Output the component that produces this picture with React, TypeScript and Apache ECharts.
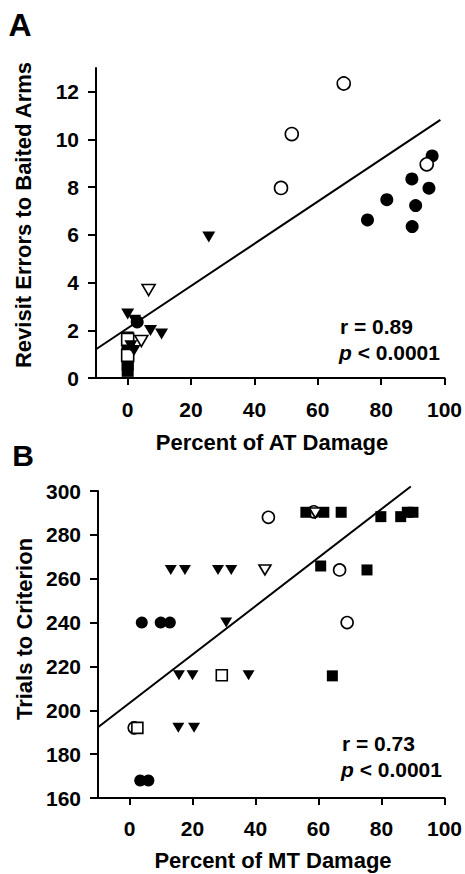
import React, { useEffect, useRef } from 'react';
import * as echarts from 'echarts';

const FONT = '"Liberation Sans", Arial, Helvetica, sans-serif';

// Panel A: Percent of AT damage vs revisit errors
const A_filledCircles = [[96.1, 9.31], [89.7, 8.35], [95.1, 7.96], [81.8, 7.48], [90.9, 7.23], [75.7, 6.63], [89.8, 6.35], [3, 2.35]];
const A_openCircles = [[68.2, 12.35], [51.8, 10.23], [48.4, 7.97], [94.4, 8.96]];
const A_filledSquares = [[0, 0.3], [0, 0.55], [0, 0.8], [0, 1.1], [0, 1.35], [0, 1.7]];
const A_openSquares = [[0, 1.62], [0, 0.95]];
const A_filledTriangles = [[25.6, 5.91], [0, 2.68], [2.2, 2.42], [7.2, 1.99], [10.7, 1.84], [1, 1.35], [2, 1.15]];
const A_openTriangles = [[6.6, 3.69], [4.3, 1.55]];
const A_fit = { intercept: 2.09, slope: 0.0885, xStart: -10, xEnd: 98.7 };

// Panel B: Percent of MT damage vs trials to criterion
const B_filledCircles = [[3.9, 240], [9.9, 240], [12.8, 240], [3.4, 168], [6, 168]];
const B_openCircles = [[44.1, 288], [66.7, 264], [69.1, 240], [1.5, 192], [58.5, 290.5]];
const B_filledSquares = [[56, 290.3], [61.7, 290.3], [67.2, 290.3], [79.8, 288.3], [86.1, 288.3], [88.2, 290.3], [90, 290.3], [60.7, 265.8], [75.4, 264], [64.4, 215.7]];
const B_openSquares = [[29.3, 216], [2.5, 192]];
const B_filledTriangles = [[13.1, 264], [17.6, 264], [28.1, 264], [32.3, 264], [30.7, 240], [15.7, 216], [20, 216], [37.8, 216], [15.5, 192], [20.5, 192]];
const B_openTriangles = [[43, 264], [59, 290]];
const B_fit = { intercept: 203.3, slope: 1.106, xStart: -10, xEnd: 89.3 };

const xTicks = [0, 20, 40, 60, 80, 100];
const yTicksA = [0, 2, 4, 6, 8, 10, 12];

const fitLine = (f: { intercept: number; slope: number; xStart: number; xEnd: number }) => [
  [f.xStart, f.intercept + f.slope * f.xStart],
  [f.xEnd, f.intercept + f.slope * f.xEnd],
];

const labelStyle = { color: '#000', fontSize: 21, fontWeight: 'bold', fontFamily: FONT };
const lineStyle = { color: '#000', width: 2 };

function xAxisCfg(gridIndex: number, margin: number) {
  return {
    type: 'value', gridIndex, min: -10, max: 100,
    axisLine: { show: true, onZero: false, lineStyle },
    axisTick: { show: true, customValues: xTicks, length: 7, lineStyle },
    axisLabel: { ...labelStyle, customValues: xTicks, margin },
    splitLine: { show: false },
  };
}

function scatter(data: number[][], xi: number, kind: string, open: boolean, size: number | number[]) {
  return {
    type: 'scatter', xAxisIndex: xi, yAxisIndex: xi, data,
    symbol: kind, symbolSize: size, symbolRotate: kind === 'triangle' ? 180 : 0,
    itemStyle: open ? { color: '#fff', borderColor: '#000', borderWidth: 1.6, opacity: 1 } : { color: '#000', opacity: 1 },
    z: 3,
  };
}

function panelSeries(xi: number, d: any, s: { c: number; q: number; t: number[] }) {
  return [
    scatter(d.fc, xi, 'circle', false, s.c),
    scatter(d.oc, xi, 'circle', true, s.c),
    scatter(d.fs, xi, 'rect', false, s.q),
    scatter(d.os, xi, 'rect', true, s.q),
    scatter(d.ft, xi, 'triangle', false, s.t),
    scatter(d.ot, xi, 'triangle', true, s.t),
    {
      type: 'line', xAxisIndex: xi, yAxisIndex: xi, data: d.fit, showSymbol: false, symbol: 'none',
      clip: false, lineStyle: { color: '#000', width: 2 }, z: 2,
    },
  ];
}

const textEl = (text: string, x: number, y: number, size: number, extra: any = {}) => ({
  type: 'text', x, y, rotation: extra.rotation || 0,
  style: {
    text, fill: '#000', fontSize: size, fontWeight: 'bold', fontFamily: FONT,
    align: extra.align || 'center', verticalAlign: 'middle',
    textAlign: extra.align || 'center', textVerticalAlign: 'middle',
    rich: extra.rich,
  },
});

const richP = { i: { fontSize: 21, fontWeight: 'bold', fontStyle: 'italic', fontFamily: FONT, fill: '#000', color: '#000' } };

const option = {
  animation: false,
  backgroundColor: '#fff',
  grid: [
    { left: 96, right: 19, top: 68, bottom: 496 },
    { left: 98, right: 18, top: 491, bottom: 76 },
  ],
  xAxis: [xAxisCfg(0, 21), xAxisCfg(1, 20)],
  yAxis: [
    {
      type: 'value', gridIndex: 0, min: 0, max: 13,
      axisLine: { show: true, onZero: false, lineStyle },
      axisTick: { show: true, customValues: yTicksA, length: 8, lineStyle },
      axisLabel: { ...labelStyle, customValues: yTicksA, margin: 17 },
      splitLine: { show: false },
    },
    {
      type: 'value', gridIndex: 1, min: 160, max: 300, interval: 20,
      axisLine: { show: true, onZero: false, lineStyle },
      axisTick: { show: true, length: 8, lineStyle },
      axisLabel: { ...labelStyle, margin: 17 },
      splitLine: { show: false },
    },
  ],
  series: [
    ...panelSeries(0, { fc: A_filledCircles, oc: A_openCircles, fs: A_filledSquares, os: A_openSquares, ft: A_filledTriangles, ot: A_openTriangles, fit: fitLine(A_fit) }, { c: 13, q: 12, t: [13, 11] }),
    ...panelSeries(1, { fc: B_filledCircles, oc: B_openCircles, fs: B_filledSquares, os: B_openSquares, ft: B_filledTriangles, ot: B_openTriangles, fit: fitLine(B_fit) }, { c: 12, q: 11, t: [12, 10] }),
  ],
  graphic: [
    textEl('A', 20, 25, 32),
    textEl('B', 23, 455, 30),
    textEl('Revisit Errors to Baited Arms', 23, 215, 22, { rotation: Math.PI / 2 }),
    textEl('Percent of AT Damage', 272, 442, 22),
    textEl('Trials to Criterion', 24, 629, 22, { rotation: Math.PI / 2 }),
    textEl('Percent of MT Damage', 273, 860, 22),
    textEl('r = 0.89', 340, 326, 21, { align: 'left' }),
    textEl('{i|p} < 0.0001', 339, 352, 21, { align: 'left', rich: richP }),
    textEl('r = 0.73', 342, 743, 21, { align: 'left' }),
    textEl('{i|p} < 0.0001', 341, 769, 21, { align: 'left', rich: richP }),
  ],
};

export default function App() {
  const ref = useRef<HTMLDivElement>(null);
  useEffect(() => {
    document.body.style.margin = '0';
    const chart = echarts.init(ref.current!, null, { renderer: 'svg' });
    chart.setOption(option as any);
    return () => chart.dispose();
  }, []);
  return <div ref={ref} style={{ width: 465, height: 874 }} />;
}
